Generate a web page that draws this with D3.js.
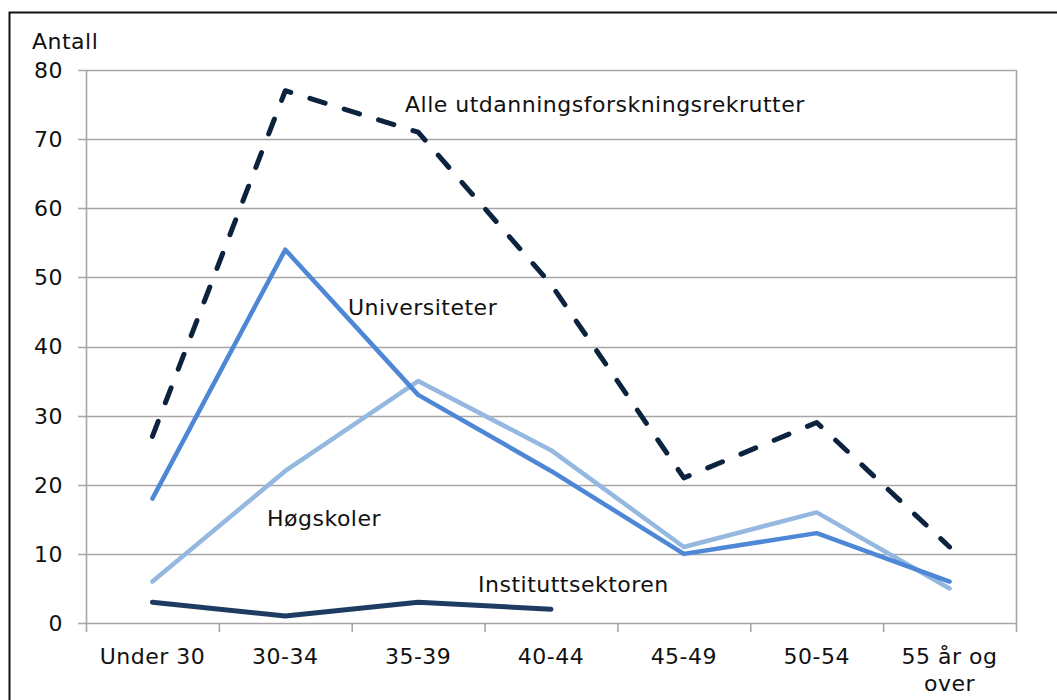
<!DOCTYPE html>
<html><head><meta charset="utf-8">
<script src="https://cdn.jsdelivr.net/npm/d3@7"></script>
<style>body{margin:0;background:#fff}svg{display:block}text{font-family:"DejaVu Sans",Verdana,sans-serif;fill:#111;letter-spacing:0.5px}</style>
</head><body><svg id="c" width="1057" height="700"></svg>
<script>
const categories = ["Under 30","30-34","35-39","40-44","45-49","50-54","55 år og over"];
const alle = [27,77,71,49,21,29,11];
const universiteter = [18,54,33,22,10,13,6];
const hogskoler = [6,22,35,25,11,16,5];
const institutt = [3,1,3,2,null,null,null];
const yTicks = [0,10,20,30,40,50,60,70,80];

const svg = d3.select("#c");
const L=86,R=1016,T=70,B=623;
const FS=22;
const x = d3.scaleBand().domain(categories).range([L,R]);
const y = d3.scaleLinear().domain([0,80]).range([B,T]);

// outer frame
svg.append("path").attr("d","M9.5,700 V12.5 H1057").attr("fill","none").attr("stroke","#111").attr("stroke-width",2);

// grid
svg.append("g").selectAll("line").data(yTicks).join("line")
 .attr("x1",L-8).attr("x2",R).attr("y1",d=>Math.round(y(d))+0.5).attr("y2",d=>Math.round(y(d))+0.5)
 .attr("stroke","#a6a6a6").attr("stroke-width",1.6);
// y labels
svg.append("g").selectAll("text").data(yTicks).join("text")
 .attr("x",63).attr("y",d=>y(d)).attr("dy","0.36em").attr("text-anchor","end")
 .attr("font-size",FS).text(d=>d);
// left axis and right border
svg.append("line").attr("x1",L+0.5).attr("x2",L+0.5).attr("y1",T).attr("y2",B+9).attr("stroke","#a6a6a6").attr("stroke-width",1.6);
svg.append("line").attr("x1",R+0.5).attr("x2",R+0.5).attr("y1",T).attr("y2",B+9).attr("stroke","#a6a6a6").attr("stroke-width",1.6);
// x ticks
const xt = categories.map(c=>x(c));
svg.append("g").selectAll("line").data(xt.slice(1)).join("line")
 .attr("x1",d=>d+0.5).attr("x2",d=>d+0.5).attr("y1",B).attr("y2",B+9).attr("stroke","#a6a6a6").attr("stroke-width",1.6);
// x labels
const xl = svg.append("g");
categories.forEach(c=>{
  const cx = x(c)+x.bandwidth()/2;
  const t = xl.append("text").attr("x",cx).attr("y",664).attr("text-anchor","middle").attr("font-size",FS);
  if(c==="55 år og over"){
    t.append("tspan").attr("x",cx).text("55 år og");
    t.append("tspan").attr("x",cx).attr("dy",27).text("over");
  } else t.text(c);
});
svg.append("text").attr("x",32).attr("y",49).attr("font-size",FS).text("Antall");

const line = d3.line().defined(d=>d!=null).x((d,i)=>x(categories[i])+x.bandwidth()/2).y(d=>y(d));
function draw(data,color,w,dash){
  const p = svg.append("path").datum(data).attr("d",line).attr("fill","none")
   .attr("stroke",color).attr("stroke-width",w).attr("stroke-linejoin","round").attr("stroke-linecap","round");
  if(dash) p.attr("stroke-dasharray",dash);
}
draw(hogskoler,"#95b8e0",4.5);
draw(universiteter,"#4d87d6",4.5);
draw(institutt,"#1e3c62",5);
draw(alle,"#0c2340",5,"16,20");

svg.append("text").attr("x",405).attr("y",112).attr("font-size",FS).text("Alle utdanningsforskningsrekrutter");
svg.append("text").attr("x",348).attr("y",315).attr("font-size",FS).text("Universiteter");
svg.append("text").attr("x",267).attr("y",526).attr("font-size",FS).text("Høgskoler");
svg.append("text").attr("x",478).attr("y",592).attr("font-size",FS).text("Instituttsektoren");
</script></body></html>
